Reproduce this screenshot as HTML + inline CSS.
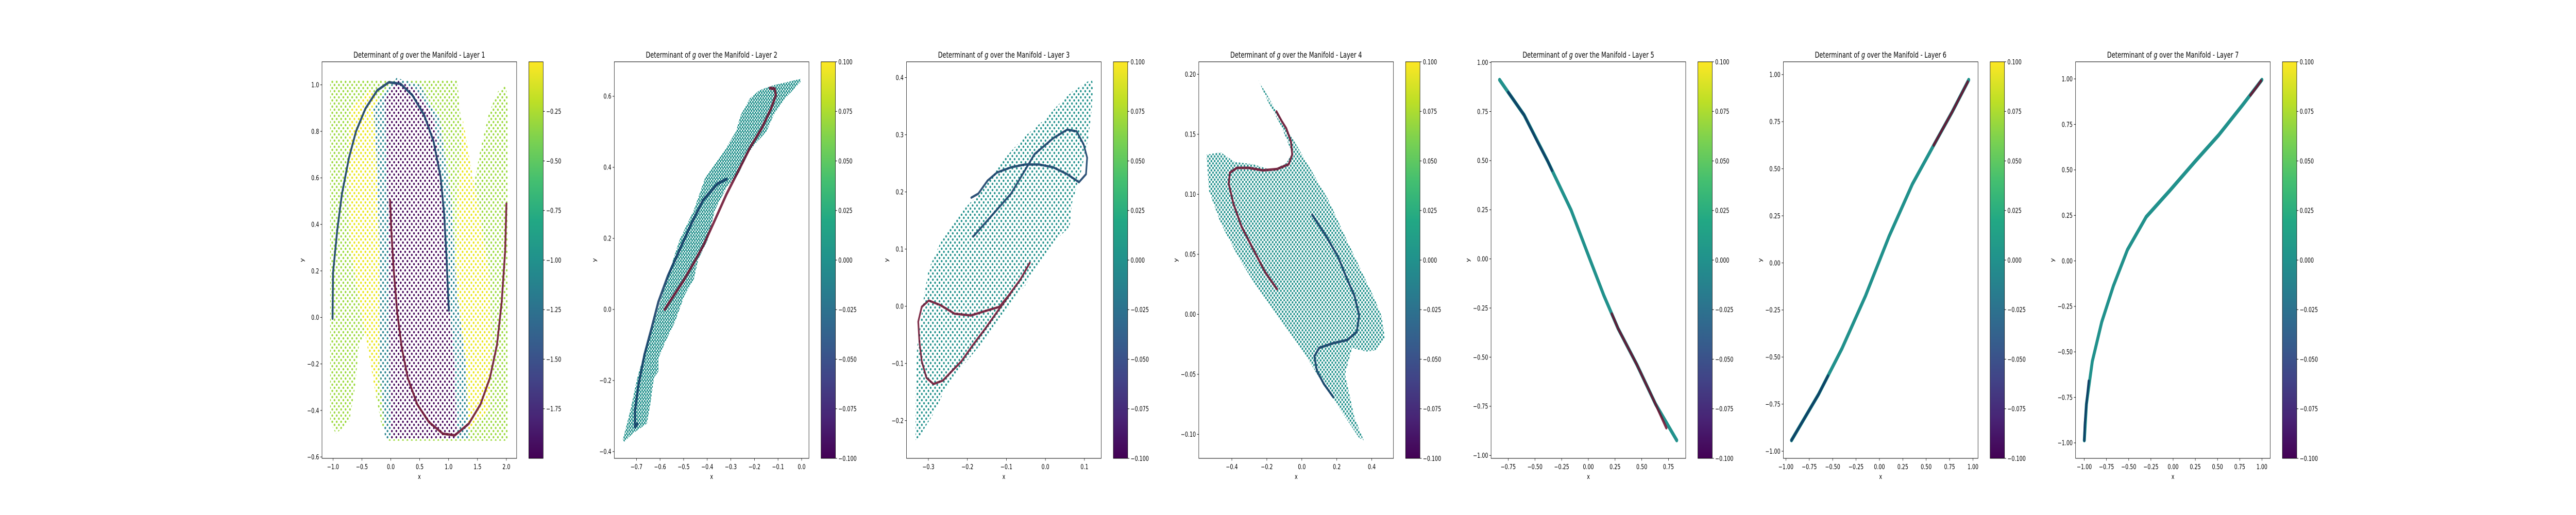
<!DOCTYPE html>
<html><head><meta charset="utf-8">
<style>
html,body{margin:0;padding:0;background:#fff;overflow:hidden;width:100%;height:100%;}
svg{display:block;width:100vw;height:100vh;font-family:"DejaVu Sans","Liberation Sans",sans-serif;}
</style></head>
<body>
<svg id="fig" viewBox="0 0 7000 1000" preserveAspectRatio="none" xmlns="http://www.w3.org/2000/svg">
<defs>
<linearGradient id="viridis" x1="0" y1="1" x2="0" y2="0">
<stop offset="0" stop-color="#440154"/><stop offset="0.1" stop-color="#482475"/><stop offset="0.2" stop-color="#414487"/><stop offset="0.3" stop-color="#355f8d"/><stop offset="0.4" stop-color="#2a788e"/><stop offset="0.5" stop-color="#21918c"/><stop offset="0.6" stop-color="#22a884"/><stop offset="0.7" stop-color="#44bf70"/><stop offset="0.8" stop-color="#7ad151"/><stop offset="0.9" stop-color="#bddf26"/><stop offset="1" stop-color="#fde725"/>
</linearGradient>
</defs>
<rect x="0" y="0" width="7000" height="1000" fill="#fff"/>
</svg>
<script>
// ---------- tick labels ----------
const L1_xticks=["−1.0","−0.5","0.0","0.5","1.0","1.5","2.0"];
const L1_yticks=["−0.6","−0.4","−0.2","0.0","0.2","0.4","0.6","0.8","1.0"];
const L1_cticks=["−1.75","−1.50","−1.25","−1.00","−0.75","−0.50","−0.25"];
const L2_xticks=["−0.7","−0.6","−0.5","−0.4","−0.3","−0.2","−0.1","0.0"];
const L2_yticks=["−0.4","−0.2","0.0","0.2","0.4","0.6"];
const L3_xticks=["−0.3","−0.2","−0.1","0.0","0.1"];
const L3_yticks=["−0.2","−0.1","0.0","0.1","0.2","0.3","0.4"];
const L4_xticks=["−0.4","−0.2","0.0","0.2","0.4"];
const L4_yticks=["−0.10","−0.05","0.00","0.05","0.10","0.15","0.20"];
const L5_xticks=["−0.75","−0.50","−0.25","0.00","0.25","0.50","0.75"];
const L5_yticks=["−1.00","−0.75","−0.50","−0.25","0.00","0.25","0.50","0.75","1.00"];
const L6_xticks=["−1.00","−0.75","−0.50","−0.25","0.00","0.25","0.50","0.75","1.00"];
const L6_yticks=L5_yticks;
const L7_xticks=L6_xticks;
const L7_yticks=L5_yticks;
const CB_ticks=["−0.100","−0.075","−0.050","−0.025","0.000","0.025","0.050","0.075","0.100"];

// ---------- Layer 1 data ----------
const L1_outline=[[-1.05,1.02],[1.15,1.02],[1.2,0.88],[1.3,0.7],[1.42,0.55],[1.55,0.72],[1.7,0.88],[1.85,0.97],[1.98,1.0],[2.02,0.95],[2.02,-0.53],[-0.05,-0.53],[-0.17,-0.45],[-0.27,-0.32],[-0.35,-0.2],[-0.42,-0.05],[-0.55,-0.12],[-0.62,-0.3],[-0.72,-0.45],[-0.95,-0.5],[-1.05,-0.45]];
const L1_yellowLeft=[[-0.7,0.9],[-0.35,0.98],[-0.15,0.9],[-0.1,0.5],[-0.15,0.0],[-0.25,-0.35],[-0.35,-0.2],[-0.5,0.0],[-0.7,0.3],[-0.75,0.6]];
const L1_yellowRight=[[1.7,-0.4],[1.35,-0.48],[1.15,-0.4],[1.1,0.0],[1.15,0.5],[1.25,0.85],[1.35,0.7],[1.5,0.5],[1.7,0.2],[1.75,-0.1]];
const L1_teal=[[-0.3,0.9],[0.1,1.03],[0.5,1.0],[0.85,0.85],[1.05,0.5],[1.15,0.1],[1.3,-0.2],[1.35,-0.52],[-0.1,-0.52],[-0.2,-0.2],[-0.2,0.3],[-0.25,0.7]];
const L1_purple=[[-0.1,0.95],[0.1,1.02],[0.45,0.98],[0.75,0.85],[0.92,0.5],[1.0,0.1],[1.1,-0.2],[1.15,-0.52],[0.0,-0.52],[-0.02,-0.2],[-0.03,0.3],[-0.08,0.7]];
const L1_blue=[[-1.008,-0.005],[-1.0,0.192],[-0.927,0.376],[-0.846,0.531],[-0.724,0.686],[-0.602,0.80],[-0.439,0.898],[-0.236,0.976],[-0.033,1.011],[0.171,1.004],[0.374,0.955],[0.577,0.870],[0.740,0.757],[0.862,0.602],[0.923,0.446],[0.963,0.263],[0.992,0.093],[1.004,0.03]];
const L1_red=[[-0.012,0.503],[0.008,0.376],[0.049,0.206],[0.110,0.023],[0.191,-0.133],[0.293,-0.26],[0.455,-0.373],[0.659,-0.450],[0.902,-0.50],[1.106,-0.507],[1.350,-0.457],[1.553,-0.373],[1.715,-0.26],[1.837,-0.118],[1.919,0.065],[1.98,0.291],[2.0,0.489]];

// ---------- Layer 2 data ----------
const L2_outline=[[-0.758,-0.368],[-0.726,-0.284],[-0.696,-0.192],[-0.661,-0.109],[-0.616,-0.016],[-0.567,0.094],[-0.517,0.196],[-0.457,0.279],[-0.408,0.372],[-0.358,0.418],[-0.328,0.446],[-0.278,0.501],[-0.258,0.547],[-0.219,0.594],[-0.179,0.617],[-0.119,0.631],[-0.060,0.640],[-0.005,0.649],[-0.005,0.64],[-0.070,0.594],[-0.119,0.547],[-0.149,0.501],[-0.199,0.464],[-0.229,0.436],[-0.268,0.381],[-0.318,0.344],[-0.368,0.279],[-0.398,0.196],[-0.438,0.141],[-0.457,0.085],[-0.497,0.039],[-0.537,-0.035],[-0.577,-0.090],[-0.607,-0.137],[-0.607,-0.174],[-0.626,-0.192],[-0.641,-0.266],[-0.656,-0.321],[-0.716,-0.349],[-0.751,-0.372]];
const L2_blue=[[-0.318,0.367],[-0.358,0.353],[-0.418,0.307],[-0.467,0.242],[-0.517,0.168],[-0.567,0.094],[-0.607,0.021],[-0.636,-0.053],[-0.666,-0.127],[-0.691,-0.211],[-0.706,-0.284],[-0.706,-0.331],[-0.696,-0.322]];
const L2_red=[[-0.580,0.0],[-0.537,0.044],[-0.497,0.085],[-0.457,0.131],[-0.418,0.178],[-0.368,0.251],[-0.318,0.325],[-0.268,0.390],[-0.219,0.455],[-0.169,0.510],[-0.129,0.566],[-0.109,0.603],[-0.114,0.621],[-0.134,0.623]];

// ---------- Layer 3 data ----------
const L3_outline=[[-0.333,-0.234],[-0.332,-0.142],[-0.329,-0.073],[-0.311,0.019],[-0.299,0.065],[-0.269,0.111],[-0.221,0.162],[-0.178,0.191],[-0.118,0.248],[-0.058,0.294],[0.002,0.329],[0.032,0.352],[0.068,0.375],[0.119,0.398],[0.122,0.386],[0.119,0.346],[0.110,0.294],[0.092,0.237],[0.068,0.180],[0.062,0.139],[0.020,0.111],[-0.016,0.076],[-0.052,0.036],[-0.088,0.007],[-0.124,-0.027],[-0.160,-0.062],[-0.209,-0.102],[-0.251,-0.136],[-0.287,-0.188],[-0.323,-0.228]];
const L3_blue=[[-0.185,0.122],[-0.088,0.197],[-0.028,0.266],[0.020,0.294],[0.056,0.309],[0.080,0.306],[0.098,0.283],[0.107,0.260],[0.104,0.231],[0.086,0.217],[0.056,0.231],[0.020,0.243],[-0.016,0.248],[-0.052,0.248],[-0.088,0.243],[-0.124,0.234],[-0.148,0.220],[-0.172,0.197],[-0.19,0.19]];
const L3_red=[[-0.040,0.076],[-0.064,0.047],[-0.094,0.019],[-0.118,-0.001],[-0.148,-0.007],[-0.191,-0.016],[-0.233,-0.013],[-0.269,0.002],[-0.299,0.010],[-0.317,-0.001],[-0.326,-0.027],[-0.323,-0.062],[-0.317,-0.096],[-0.305,-0.125],[-0.287,-0.136],[-0.263,-0.130],[-0.239,-0.113],[-0.215,-0.096],[-0.185,-0.067],[-0.154,-0.039],[-0.124,-0.010],[-0.088,0.024]];

// ---------- Layer 4 data ----------
const L4_outline=[[-0.250,0.1956],[0.046,0.122],[0.153,0.095],[0.247,0.065],[0.328,0.040],[0.408,0.0155],[0.455,-0.001],[0.475,-0.020],[0.421,-0.030],[0.368,-0.031],[0.287,-0.028],[0.247,-0.050],[0.301,-0.086],[0.354,-0.105],[0.328,-0.103],[0.153,-0.065],[0.019,-0.034],[-0.115,-0.007],[-0.250,0.021],[-0.357,0.046],[-0.464,0.076],[-0.531,0.103],[-0.545,0.133],[-0.464,0.135],[-0.384,0.127],[-0.277,0.125],[-0.169,0.120],[-0.089,0.126],[-0.055,0.134],[-0.115,0.156],[-0.196,0.178]];
const L4_blue=[[0.059,0.083],[0.140,0.065],[0.207,0.048],[0.260,0.029],[0.301,0.0155],[0.328,-0.001],[0.314,-0.0146],[0.260,-0.0214],[0.180,-0.024],[0.099,-0.028],[0.072,-0.035],[0.086,-0.047],[0.126,-0.058],[0.180,-0.069]];
const L4_red=[[-0.142,0.021],[-0.209,0.035],[-0.277,0.054],[-0.344,0.073],[-0.391,0.092],[-0.418,0.109],[-0.411,0.118],[-0.371,0.122],[-0.303,0.122],[-0.223,0.120],[-0.142,0.121],[-0.075,0.125],[-0.055,0.133],[-0.062,0.144],[-0.089,0.155],[-0.115,0.161],[-0.145,0.169]];

// ---------- Layers 5-7 data ----------
const L5_curve=[[-0.831,0.911],[-0.601,0.732],[-0.381,0.498],[-0.161,0.248],[-0.008,0.030],[0.146,-0.187],[0.278,-0.354],[0.454,-0.538],[0.629,-0.739],[0.827,-0.923]];
const L5_blue=[[-0.75,0.848],[-0.601,0.732],[-0.48,0.60],[-0.381,0.498],[-0.34,0.45]];
const L5_red=[[0.22,-0.28],[0.278,-0.354],[0.454,-0.538],[0.629,-0.739],[0.73,-0.86]];
const L6_curve=[[-0.940,-0.942],[-0.651,-0.698],[-0.400,-0.454],[-0.149,-0.175],[0.102,0.140],[0.353,0.419],[0.604,0.646],[0.779,0.803],[0.955,0.972]];
const L6_blue=[[-0.94,-0.942],[-0.651,-0.698],[-0.55,-0.6]];
const L6_red=[[0.58,0.625],[0.779,0.803],[0.945,0.962]];
const L7_curve=[[-1.0,-0.986],[-0.976,-0.787],[-0.910,-0.552],[-0.804,-0.336],[-0.672,-0.137],[-0.514,0.061],[-0.303,0.242],[-0.038,0.386],[0.252,0.549],[0.516,0.693],[0.781,0.856],[1.0,0.995]];
const L7_blue=[[-1.0,-0.986],[-0.995,-0.9],[-0.976,-0.787],[-0.95,-0.66]];
const L7_red=[[0.87,0.91],[0.94,0.955],[0.99,0.99]];

const BLUE="#0b3560", RED="#680a2a", TEAL="#21918c";

const layers=[
 {n:1,xd:[-1.191,2.178],yd:[-0.606,1.099],xt:L1_xticks,yt:L1_yticks,ct:L1_cticks,cd:[-2.0,0.0],
  regions:[[L1_outline,"#9bd93c",12],[L1_yellowLeft,"#eae51a",12],[L1_yellowRight,"#eae51a",12],[L1_teal,"#26828e",12],[L1_purple,"#46075a",12]],
  blue:L1_blue,red:L1_red,cw:5},
 {n:2,xd:[-0.794,0.031],yd:[-0.419,0.697],xt:L2_xticks,yt:L2_yticks,ct:CB_ticks,cd:[-0.1,0.1],
  regions:[[L2_outline,TEAL,7]],blue:L2_blue,red:L2_red,cw:6},
 {n:3,xd:[-0.356,0.143],yd:[-0.266,0.4276],xt:L3_xticks,yt:L3_yticks,ct:CB_ticks,cd:[-0.1,0.1],
  regions:[[L3_outline,TEAL,12]],blue:L3_blue,red:L3_red,cw:4.5},
 {n:4,xd:[-0.589,0.524],yd:[-0.12,0.2104],xt:L4_xticks,yt:L4_yticks,ct:CB_ticks,cd:[-0.1,0.1],
  regions:[[L4_outline,TEAL,9]],blue:L4_blue,red:L4_red,cw:5},
 {n:5,xd:[-0.9105,0.9115],yd:[-1.015,1.003],xt:L5_xticks,yt:L5_yticks,ct:CB_ticks,cd:[-0.1,0.1],
  regions:[],band:L5_curve,blue:L5_blue,red:L5_red,cw:6},
 {n:6,xd:[-1.0275,1.054],yd:[-1.038,1.068],xt:L6_xticks,yt:L6_yticks,ct:CB_ticks,cd:[-0.1,0.1],
  regions:[],band:L6_curve,blue:L6_blue,red:L6_red,cw:6},
 {n:7,xd:[-1.098,1.094],yd:[-1.085,1.094],xt:L7_xticks,yt:L7_yticks,ct:CB_ticks,cd:[-0.1,0.1],
  regions:[],band:L7_curve,blue:L7_blue,red:L7_red,cw:6}
];

const NS="http://www.w3.org/2000/svg";
const svg=document.getElementById("fig");
const defs=svg.querySelector("defs");
const X0=875,DX=794.2,TOP=120,W=529,H=770,CBOFF=562,CBW=39;
const FS=13.4;
const cv=document.createElement("canvas").getContext("2d");
cv.font=FS+'px "DejaVu Sans"';
function num(s){return parseFloat(s.replace("−","-"));}
function mk(tag,parent){const e=document.createElementNS(NS,tag);parent.appendChild(e);return e;}
const patterns={};
function pat(color,sp){
  const id="p"+color.slice(1)+"_"+sp;
  if(!patterns[id]){
    const p=mk("pattern",defs);
    p.setAttribute("id",id);p.setAttribute("patternUnits","userSpaceOnUse");
    p.setAttribute("width",sp);p.setAttribute("height",sp);
    [[sp/4,sp/4],[3*sp/4,3*sp/4]].forEach(c=>{const k=mk("circle",p);k.setAttribute("cx",c[0]);k.setAttribute("cy",c[1]);k.setAttribute("r",2.3);k.setAttribute("fill",color);});
    patterns[id]=1;
  }
  return "url(#"+id+")";
}

layers.forEach((L,i)=>{
  const left=X0+i*DX;
  const sx=v=>left+(v-L.xd[0])/(L.xd[1]-L.xd[0])*W;
  const sy=v=>TOP+(L.yd[1]-v)/(L.yd[1]-L.yd[0])*H;
  const pts=a=>a.map(p=>sx(p[0]).toFixed(1)+","+sy(p[1]).toFixed(1)).join(" ");
  const g=mk("g",svg);
  
  

  const cp=mk("clipPath",defs);cp.setAttribute("id","clip"+L.n);
  const cr=mk("rect",cp);cr.setAttribute("x",left);cr.setAttribute("y",TOP);cr.setAttribute("width",W);cr.setAttribute("height",H);
  const plot=mk("g",g);plot.setAttribute("clip-path","url(#clip"+L.n+")");
  
  

  L.regions.forEach((r,k)=>{
    if(k>0){const u=mk("polygon",plot);u.setAttribute("points",pts(r[0]));u.setAttribute("fill","#fff");
      
      }
    const pg=mk("polygon",plot);pg.setAttribute("points",pts(r[0]));pg.setAttribute("fill",pat(r[1],r[2]));
    
    
  });
  if(L.band){
    const b=mk("polyline",plot);b.setAttribute("points",pts(L.band));b.setAttribute("fill","none");b.setAttribute("stroke",TEAL);b.setAttribute("stroke-width",8);b.setAttribute("stroke-linecap","round");b.setAttribute("stroke-linejoin","round");
    
    
  }
  [[L.blue,BLUE,"blue-boundary-curve"],[L.red,RED,"red-boundary-curve"]].forEach(c=>{
    const pl=mk("polyline",plot);pl.setAttribute("points",pts(c[0]));pl.setAttribute("fill","none");pl.setAttribute("stroke",c[1]);pl.setAttribute("stroke-opacity",0.85);pl.setAttribute("stroke-width",L.cw);pl.setAttribute("stroke-linecap","round");pl.setAttribute("stroke-linejoin","round");
    
    
  });

  const fr=mk("rect",g);fr.setAttribute("x",left);fr.setAttribute("y",TOP);fr.setAttribute("width",W);fr.setAttribute("height",H);fr.setAttribute("fill","none");fr.setAttribute("stroke","#000");fr.setAttribute("stroke-width",1);
  
  

  const t=mk("text",g);t.setAttribute("x",left+W/2);t.setAttribute("y",112);t.setAttribute("text-anchor","middle");t.setAttribute("font-size","16px");
  
  
  t.appendChild(document.createTextNode("Determinant of "));
  const ti=mk("tspan",t);ti.setAttribute("font-style","italic");ti.textContent="g";
  t.appendChild(document.createTextNode(" over the Manifold - Layer "+L.n));

  L.xt.forEach(s=>{
    const x=sx(num(s));
    const l=mk("line",g);l.setAttribute("x1",x);l.setAttribute("x2",x);l.setAttribute("y1",TOP+H);l.setAttribute("y2",TOP+H+4.5);l.setAttribute("stroke","#000");
    
    
    const tx=mk("text",g);tx.setAttribute("x",x);tx.setAttribute("y",TOP+H+21);tx.setAttribute("text-anchor","middle");tx.setAttribute("font-size",FS+"px");tx.textContent=s;
    
    
  });
  let maxw=0;
  L.yt.forEach(s=>{
    const y=sy(num(s));
    const l=mk("line",g);l.setAttribute("x1",left-4.5);l.setAttribute("x2",left);l.setAttribute("y1",y);l.setAttribute("y2",y);l.setAttribute("stroke","#000");
    
    
    const ty=mk("text",g);ty.setAttribute("x",left-8);ty.setAttribute("y",y+4.8);ty.setAttribute("text-anchor","end");ty.setAttribute("font-size",FS+"px");ty.textContent=s;
    
    
    maxw=Math.max(maxw,cv.measureText(s).width);
  });
  const xl=mk("text",g);xl.setAttribute("x",left+W/2);xl.setAttribute("y",930);xl.setAttribute("text-anchor","middle");xl.setAttribute("font-size",FS+"px");xl.textContent="x";
  
  
  const yx=left-8-maxw-9;
  const yl=mk("text",g);yl.setAttribute("x",yx);yl.setAttribute("y",TOP+H/2);yl.setAttribute("text-anchor","middle");yl.setAttribute("font-size",FS+"px");yl.setAttribute("transform","rotate(-90 "+yx+" "+(TOP+H/2)+")");yl.textContent="y";
  
  

  const cbx=left+CBOFF;
  const cb=mk("rect",g);cb.setAttribute("x",cbx);cb.setAttribute("y",TOP);cb.setAttribute("width",CBW);cb.setAttribute("height",H);cb.setAttribute("fill","url(#viridis)");cb.setAttribute("stroke","#000");cb.setAttribute("stroke-width",1);
  
  
  L.ct.forEach(s=>{
    const y=TOP+(L.cd[1]-num(s))/(L.cd[1]-L.cd[0])*H;
    const l=mk("line",g);l.setAttribute("x1",cbx+CBW);l.setAttribute("x2",cbx+CBW+4.5);l.setAttribute("y1",y);l.setAttribute("y2",y);l.setAttribute("stroke","#000");
    
    
    const tc=mk("text",g);tc.setAttribute("x",cbx+CBW+8);tc.setAttribute("y",y+4.8);tc.setAttribute("font-size",FS+"px");tc.textContent=s;
    
    
  });
});
</script>
</body></html>
